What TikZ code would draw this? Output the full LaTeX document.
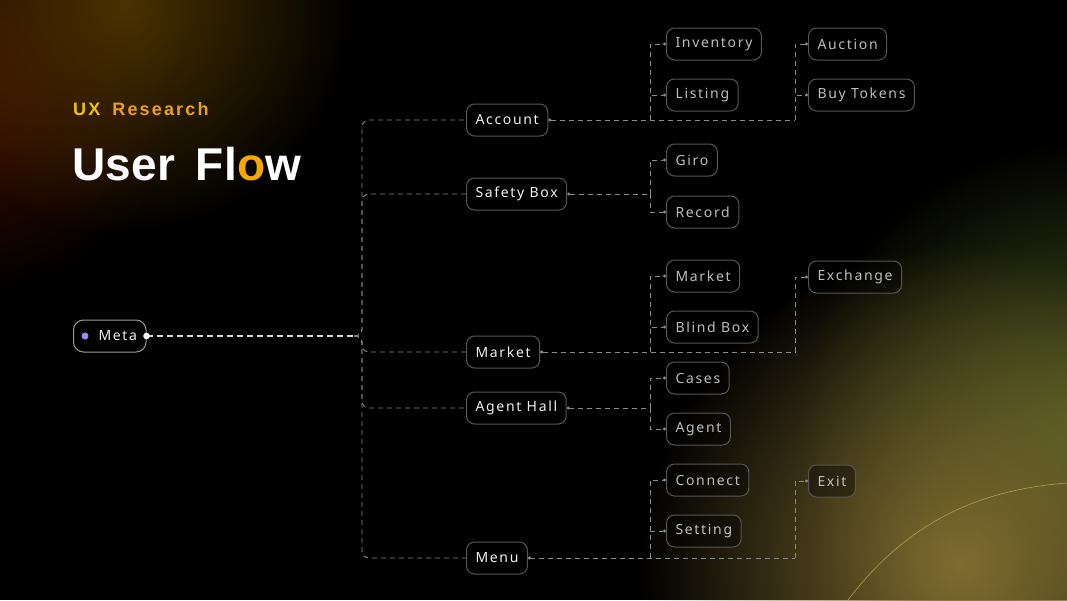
\documentclass[tikz,border=0pt]{standalone}
\usepackage{fontspec}
\setmainfont{Noto Sans}
\newfontfamily\flowfont[LetterSpace=12]{Noto Sans}
\newfontfamily\kickerfont[LetterSpace=12]{Liberation Sans}
\newfontfamily\headfont[LetterSpace=1]{Liberation Sans}
\usetikzlibrary{arrows.meta,positioning,fadings}
\definecolor{FlowLine}{HTML}{8A8A8A}
\definecolor{FlowMain}{HTML}{DADADA}
\definecolor{FlowEdge}{HTML}{565656}
\definecolor{FlowEdgeLight}{HTML}{9A9A9A}
\definecolor{FlowText}{HTML}{F2F2F2}
\definecolor{FlowSubText}{HTML}{BEBEBE}
\definecolor{FlowYellow}{HTML}{F2C400}
\definecolor{FlowOrange}{HTML}{F5A800}
\definecolor{FlowResearch}{HTML}{E9A01A}
\definecolor{FlowViolet}{HTML}{9C8CF2}
\definecolor{GlowRed}{HTML}{440F00}
\definecolor{GlowAmber}{HTML}{4A3200}
\definecolor{GlowGold}{HTML}{806C30}
\definecolor{GlowGreen}{HTML}{46561E}
\definecolor{FlowArc}{HTML}{B0A04C}
\tikzfading[name=glow fade, inner color=transparent!0, outer color=transparent!100]

\begin{document}
\begin{tikzpicture}[
  x=1pt, y=-1pt,
  mainbox/.style={draw=FlowEdge, line width=1pt, rounded corners=8pt,
                  fill=black, fill opacity=0.4, text opacity=1, text=FlowText,
                  font=\flowfont\fontsize{14}{16}\selectfont,
                  minimum height=32pt, inner xsep=9pt, anchor=west},
  subbox/.style={mainbox, text=FlowSubText},
  link/.style={draw=FlowLine, line width=0.9pt, dash pattern=on 5pt off 4pt},
  mainlink/.style={draw=FlowMain, line width=1.3pt, dash pattern=on 6pt off 4pt},
  dot/.style={-{Circle[length=3pt]}},
  startdot/.style={{Circle[length=3pt]}-}
]
  \useasboundingbox (0,0) rectangle (1067,600);
  \fill[black] (0,0) rectangle (1067,600);
  % background glows
  \begin{scope}
    \clip (0,0) rectangle (1067,600);
    \fill[GlowRed, path fading=glow fade] (-30,85) circle (210);
    \fill[GlowAmber, path fading=glow fade] (125,5) circle (230);
    \fill[GlowGreen, path fading=glow fade] (1085,430) circle (290);
    \fill[GlowGold, path fading=glow fade] (960,565) circle (320);
    \draw[FlowArc, line width=0.6pt] (848,600) .. controls (905,525) and (975,490) .. (1067,483);
  \end{scope}

  % heading
  \node[anchor=base west, inner sep=0pt, font=\kickerfont\bfseries\fontsize{18}{22}\selectfont]
    (kicker) at (73,115) {\textcolor{FlowYellow}{UX}\hspace{12pt}\textcolor{FlowResearch}{Research}};
  \node[anchor=base west, inner sep=0pt, text=white, font=\headfont\bfseries\fontsize{46}{50}\selectfont]
    (title) at (72,180) {User\hspace{20pt}Fl\textcolor{FlowOrange}{o}w};

  % root
  \node[mainbox, draw=FlowEdgeLight, rounded corners=10pt, inner xsep=9pt] (meta) at (73,336) {\hspace*{16pt}Meta};
  \fill[FlowViolet] ([xshift=12pt]meta.west) circle (3.5);

  % first level
  \node[mainbox] (account) at (466,120) {Account};
  \node[mainbox] (safetybox) at (466,194) {Safety Box};
  \node[mainbox] (market) at (466,352) {Market};
  \node[mainbox] (agenthall) at (466,408) {Agent Hall};
  \node[mainbox] (menu) at (466,558) {Menu};

  % second level
  \node[subbox] (inventory) at (666,44) {Inventory};
  \node[subbox] (listing) at (666,95) {Listing};
  \node[subbox] (giro) at (666,160) {Giro};
  \node[subbox] (record) at (666,212) {Record};
  \node[subbox] (marketsub) at (666,276) {Market};
  \node[subbox] (blindbox) at (666,327) {Blind Box};
  \node[subbox] (cases) at (666,378) {Cases};
  \node[subbox] (agent) at (666,429) {Agent};
  \node[subbox] (connect) at (666,480) {Connect};
  \node[subbox] (setting) at (666,531) {Setting};

  % third level
  \node[subbox] (auction) at (808,44) {Auction};
  \node[subbox] (buytokens) at (808,95) {Buy Tokens};
  \node[subbox] (exchange) at (808,277) {Exchange};
  \node[subbox] (exit) at (808,481) {Exit};

  % trunk
  \coordinate (fork) at (354,336);
  \coordinate (hub) at (362,336);
  \coordinate (colA) at (650,0);
  \coordinate (colB) at (795,0);
  \draw[mainlink] (meta.east) -- (fork);
  \fill[white] (meta.east) circle (3.3);
  \draw[link, rounded corners=7pt] (fork) -- (hub) |- (account.west);
  \draw[link, rounded corners=7pt] (fork) -- (hub) |- (safetybox.west);
  \draw[link, rounded corners=7pt] (fork) -- (hub) |- (market.west);
  \draw[link, rounded corners=7pt] (fork) -- (hub) |- (agenthall.west);
  \draw[link, rounded corners=7pt] (fork) -- (hub) |- (menu.west);

  % account branch
  \draw[link, startdot] (account.east) -- (account.east -| colB);
  \draw[link, dot] (account.east -| colA) |- (inventory.west);
  \draw[link, dot] (account.east -| colA) |- (listing.west);
  \draw[link, dot] (account.east -| colB) |- (auction.west);
  \draw[link, dot] (account.east -| colB) |- (buytokens.west);

  % safety box branch
  \draw[link, startdot] (safetybox.east) -- (safetybox.east -| colA);
  \draw[link, dot] (safetybox.east -| colA) |- (giro.west);
  \draw[link, dot] (safetybox.east -| colA) |- (record.west);

  % market branch
  \draw[link, startdot] (market.east) -- (market.east -| colB);
  \draw[link, dot] (market.east -| colA) |- (marketsub.west);
  \draw[link, dot] (market.east -| colA) |- (blindbox.west);
  \draw[link, dot] (market.east -| colB) |- (exchange.west);

  % agent hall branch
  \draw[link, startdot] (agenthall.east) -- (agenthall.east -| colA);
  \draw[link, dot] (agenthall.east -| colA) |- (cases.west);
  \draw[link, dot] (agenthall.east -| colA) |- (agent.west);

  % menu branch
  \draw[link, startdot] (menu.east) -- (menu.east -| colB);
  \draw[link, dot] (menu.east -| colA) |- (connect.west);
  \draw[link, dot] (menu.east -| colA) |- (setting.west);
  \draw[link, dot] (menu.east -| colB) |- (exit.west);
\end{tikzpicture}
\end{document}
